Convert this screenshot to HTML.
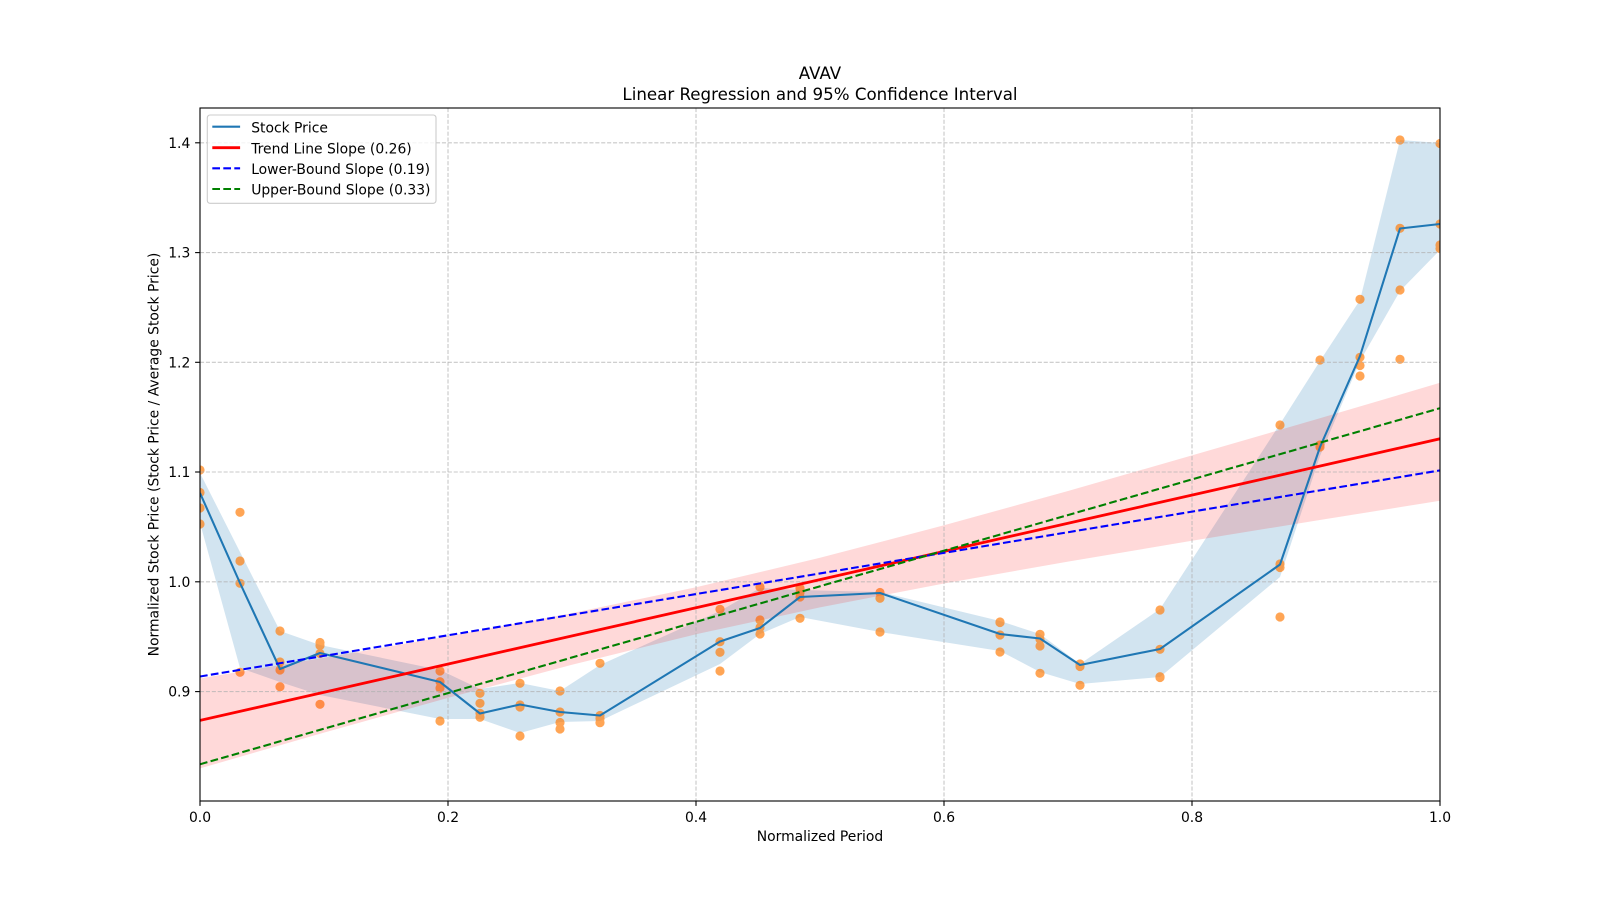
<!DOCTYPE html>
<html>
<head>
<meta charset="utf-8">
<style>
  html, body { margin: 0; padding: 0; background: #ffffff; }
  svg { display: block; }
  text { font-family: "DejaVu Sans", "Liberation Sans", sans-serif; fill: #000; }
</style>
</head>
<body>
<svg width="1600" height="900" viewBox="0 0 1600 900" xmlns="http://www.w3.org/2000/svg">
  <defs>
    <clipPath id="ax">
      <rect x="200" y="108" width="1240" height="693"/>
    </clipPath>
  </defs>
  <rect x="0" y="0" width="1600" height="900" fill="#ffffff"/>

  <!-- Title -->
  <text x="820" y="79" font-size="16.67" text-anchor="middle">AVAV</text>
  <text x="820" y="100.2" font-size="16.67" text-anchor="middle">Linear Regression and 95% Confidence Interval</text>

  <g clip-path="url(#ax)">
    <!-- Blue CI band -->
    <polygon fill="#1f77b4" fill-opacity="0.2" points="
      200,473 240,552 280,631 320,645 440,670 480,689 520,683 560,691 600,665 720,611 760,588 800,590 880,592 1000,621 1040,634 1080,664 1160,609 1280,424 1320,361 1360,300 1400,140 1440,143
      1440,250 1400,291 1360,361 1320,456 1280,577 1160,677 1080,684 1040,672 1000,651 880,632 800,617 760,634 720,664 600,721 560,722 520,733 480,719 440,719 320,695 280,682 240,668 200,523"/>

    <!-- Scatter dots -->
    <g fill="#ff7f0e" opacity="0.7">
      <circle cx="200" cy="470" r="4.6"/><circle cx="200" cy="492.5" r="4.6"/><circle cx="200" cy="508" r="4.6"/><circle cx="200" cy="524" r="4.6"/>
      <circle cx="240" cy="512.3" r="4.6"/><circle cx="240" cy="561" r="4.6"/><circle cx="240" cy="583.3" r="4.6"/><circle cx="240" cy="672.3" r="4.6"/>
      <circle cx="280" cy="631" r="4.6"/><circle cx="280" cy="662" r="4.6"/><circle cx="280" cy="670" r="4.6"/><circle cx="280" cy="686.7" r="4.6"/>
      <circle cx="320" cy="642.5" r="4.6"/><circle cx="320" cy="645.5" r="4.6"/><circle cx="320" cy="653.5" r="4.6"/><circle cx="320" cy="704.3" r="4.6"/>
      <circle cx="440" cy="671" r="4.6"/><circle cx="440" cy="681.7" r="4.6"/><circle cx="440" cy="688" r="4.6"/><circle cx="440" cy="721" r="4.6"/>
      <circle cx="480" cy="693.3" r="4.6"/><circle cx="480" cy="703.3" r="4.6"/><circle cx="480" cy="713.3" r="4.6"/><circle cx="480" cy="717.3" r="4.6"/>
      <circle cx="520" cy="683.3" r="4.6"/><circle cx="520" cy="705" r="4.6"/><circle cx="520" cy="707" r="4.6"/><circle cx="520" cy="736" r="4.6"/>
      <circle cx="560" cy="691" r="4.6"/><circle cx="560" cy="712" r="4.6"/><circle cx="560" cy="722.5" r="4.6"/><circle cx="560" cy="729" r="4.6"/>
      <circle cx="600" cy="663.3" r="4.6"/><circle cx="600" cy="715.5" r="4.6"/><circle cx="600" cy="718.5" r="4.6"/><circle cx="600" cy="722.7" r="4.6"/>
      <circle cx="720" cy="609.3" r="4.6"/><circle cx="720" cy="641.7" r="4.6"/><circle cx="720" cy="652.3" r="4.6"/><circle cx="720" cy="671" r="4.6"/>
      <circle cx="760" cy="587" r="4.6"/><circle cx="760" cy="620" r="4.6"/><circle cx="760" cy="627.5" r="4.6"/><circle cx="760" cy="634" r="4.6"/>
      <circle cx="800" cy="588.3" r="4.6"/><circle cx="800" cy="592.5" r="4.6"/><circle cx="800" cy="597" r="4.6"/><circle cx="800" cy="618.3" r="4.6"/>
      <circle cx="880" cy="592.5" r="4.6"/><circle cx="880" cy="598.3" r="4.6"/><circle cx="880" cy="632" r="4.6"/>
      <circle cx="1000" cy="622" r="4.6"/><circle cx="1000" cy="622.5" r="4.6"/><circle cx="1000" cy="635" r="4.6"/><circle cx="1000" cy="652" r="4.6"/>
      <circle cx="1040" cy="634.3" r="4.6"/><circle cx="1040" cy="639.3" r="4.6"/><circle cx="1040" cy="646" r="4.6"/><circle cx="1040" cy="673.3" r="4.6"/>
      <circle cx="1080" cy="664" r="4.6"/><circle cx="1080" cy="666.5" r="4.6"/><circle cx="1080" cy="685.3" r="4.6"/>
      <circle cx="1160" cy="610" r="4.6"/><circle cx="1160" cy="649.3" r="4.6"/><circle cx="1160" cy="676.7" r="4.6"/><circle cx="1160" cy="677.5" r="4.6"/>
      <circle cx="1280" cy="425" r="4.6"/><circle cx="1280" cy="564" r="4.6"/><circle cx="1280" cy="567.5" r="4.6"/><circle cx="1280" cy="617" r="4.6"/>
      <circle cx="1320" cy="360" r="4.6"/><circle cx="1320" cy="445" r="4.6"/><circle cx="1320" cy="447" r="4.6"/>
      <circle cx="1360" cy="299.3" r="4.6"/><circle cx="1360" cy="357.3" r="4.6"/><circle cx="1360" cy="365.5" r="4.6"/><circle cx="1360" cy="376" r="4.6"/>
      <circle cx="1400" cy="140" r="4.6"/><circle cx="1400" cy="228.3" r="4.6"/><circle cx="1400" cy="290" r="4.6"/><circle cx="1400" cy="359.3" r="4.6"/>
      <circle cx="1440" cy="143.5" r="4.6"/><circle cx="1440" cy="224" r="4.6"/><circle cx="1440" cy="245" r="4.6"/><circle cx="1440" cy="248.5" r="4.6"/>
    </g>

    <!-- Red CI band -->
    <polygon fill="#ff0000" fill-opacity="0.15" points="
      200,678.4 324,657.8 448,636.3 572,613.1 696,587.3 820,557.8 944,525.3 1068,491.0 1192,455.4 1316,419.4 1440,382.8
      1440,500.8 1316,520.6 1192,540.8 1068,561.6 944,583.5 820,607.4 696,634.3 572,664.7 448,697.9 324,732.6 200,768.4"/>

    <!-- Grid -->
    <g stroke="#b0b0b0" stroke-opacity="0.7" stroke-width="1.1" stroke-dasharray="4.1 1.8" fill="none">
      <line x1="448" y1="108" x2="448" y2="801"/>
      <line x1="696" y1="108" x2="696" y2="801"/>
      <line x1="944" y1="108" x2="944" y2="801"/>
      <line x1="1192" y1="108" x2="1192" y2="801"/>
      <line x1="200" y1="691.6" x2="1440" y2="691.6"/>
      <line x1="200" y1="581.8" x2="1440" y2="581.8"/>
      <line x1="200" y1="472.0" x2="1440" y2="472.0"/>
      <line x1="200" y1="362.3" x2="1440" y2="362.3"/>
      <line x1="200" y1="252.6" x2="1440" y2="252.6"/>
      <line x1="200" y1="142.8" x2="1440" y2="142.8"/>
    </g>

    <!-- Stock price line -->
    <polyline fill="none" stroke="#1f77b4" stroke-width="2.08" stroke-linejoin="round" points="
      200,493 240,583 280,669 320,653 440,682 480,713.5 520,704.5 560,712 600,715.5 720,641.5 760,628 800,597 880,593 1000,634 1040,638.5 1080,665 1160,649 1280,564.5 1320,447 1360,356 1400,228.5 1440,224"/>

    <!-- Trend line -->
    <line x1="200" y1="720.4" x2="1440" y2="438.8" stroke="#ff0000" stroke-width="2.8"/>

    <!-- Lower-bound -->
    <line x1="200" y1="676.5" x2="1440" y2="470.4" stroke="#0000ff" stroke-width="2.08" stroke-dasharray="7.7 3.3"/>
    <!-- Upper-bound -->
    <line x1="200" y1="764.3" x2="1440" y2="408.2" stroke="#008000" stroke-width="2.08" stroke-dasharray="7.7 3.3"/>
  </g>

  <!-- Spines -->
  <rect x="200" y="108" width="1240" height="693" fill="none" stroke="#000" stroke-width="1.1"/>

  <!-- Ticks -->
  <g stroke="#000" stroke-width="1.1">
    <line x1="200" y1="801" x2="200" y2="805.9"/>
    <line x1="448" y1="801" x2="448" y2="805.9"/>
    <line x1="696" y1="801" x2="696" y2="805.9"/>
    <line x1="944" y1="801" x2="944" y2="805.9"/>
    <line x1="1192" y1="801" x2="1192" y2="805.9"/>
    <line x1="1440" y1="801" x2="1440" y2="805.9"/>
    <line x1="195.1" y1="691.6" x2="200" y2="691.6"/>
    <line x1="195.1" y1="581.8" x2="200" y2="581.8"/>
    <line x1="195.1" y1="472.0" x2="200" y2="472.0"/>
    <line x1="195.1" y1="362.3" x2="200" y2="362.3"/>
    <line x1="195.1" y1="252.6" x2="200" y2="252.6"/>
    <line x1="195.1" y1="142.8" x2="200" y2="142.8"/>
  </g>

  <!-- X tick labels -->
  <g font-size="13.9" text-anchor="middle">
    <text x="200" y="822">0.0</text>
    <text x="448" y="822">0.2</text>
    <text x="696" y="822">0.4</text>
    <text x="944" y="822">0.6</text>
    <text x="1192" y="822">0.8</text>
    <text x="1440" y="822">1.0</text>
  </g>
  <!-- Y tick labels -->
  <g font-size="13.9" text-anchor="end">
    <text x="190.3" y="696.6">0.9</text>
    <text x="190.3" y="586.8">1.0</text>
    <text x="190.3" y="477.0">1.1</text>
    <text x="190.3" y="367.3">1.2</text>
    <text x="190.3" y="257.6">1.3</text>
    <text x="190.3" y="147.8">1.4</text>
  </g>

  <!-- Axis labels -->
  <text x="820" y="841" font-size="13.9" text-anchor="middle">Normalized Period</text>
  <text x="0" y="0" font-size="13.9" text-anchor="middle" transform="translate(158.5,454.5) rotate(-90)">Normalized Stock Price (Stock Price / Average Stock Price)</text>

  <!-- Legend -->
  <rect x="207.3" y="115" width="228.7" height="88.3" rx="2.8" ry="2.8" fill="#ffffff" fill-opacity="0.8" stroke="#cccccc" stroke-width="1.1"/>
  <line x1="212.3" y1="126.7" x2="240.1" y2="126.7" stroke="#1f77b4" stroke-width="2.08"/>
  <line x1="212.3" y1="147.7" x2="240.1" y2="147.7" stroke="#ff0000" stroke-width="2.8"/>
  <line x1="212.3" y1="168.3" x2="240.1" y2="168.3" stroke="#0000ff" stroke-width="2.08" stroke-dasharray="7.7 3.3"/>
  <line x1="212.3" y1="189" x2="240.1" y2="189" stroke="#008000" stroke-width="2.08" stroke-dasharray="7.7 3.3"/>
  <g font-size="13.9">
    <text x="251.2" y="132.3">Stock Price</text>
    <text x="251.2" y="153.3">Trend Line Slope (0.26)</text>
    <text x="251.2" y="174">Lower-Bound Slope (0.19)</text>
    <text x="251.2" y="194.7">Upper-Bound Slope (0.33)</text>
  </g>
</svg>
</body>
</html>
